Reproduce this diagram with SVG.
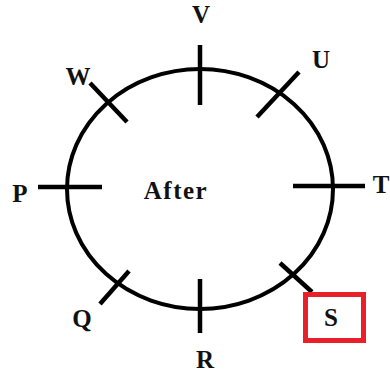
<svg xmlns="http://www.w3.org/2000/svg" width="390" height="373" viewBox="0 0 390 373">
<style>
.lbl{font-family:"Liberation Serif","Times New Roman",serif;font-weight:bold;font-size:25px;fill:#111;text-anchor:middle}
.tk{stroke:#000;stroke-width:4.5;fill:none}
</style>
<rect width="390" height="373" fill="#fff"/>
<g id="circle"><ellipse cx="200" cy="189" rx="133" ry="120" fill="none" stroke="#000" stroke-width="4"/></g>
<g id="connectors">
<line class="tk" x1="200" y1="45" x2="200" y2="105"/>
<line class="tk" x1="200" y1="279" x2="200" y2="333"/>
<line class="tk" x1="38" y1="187" x2="102" y2="187"/>
<line class="tk" x1="293" y1="186" x2="365" y2="186"/>
<line class="tk" x1="90" y1="83" x2="127" y2="122"/>
<line class="tk" x1="299" y1="72" x2="257" y2="117"/>
<line class="tk" x1="129" y1="271" x2="100" y2="304"/>
<line class="tk" x1="280" y1="263" x2="312" y2="292"/>
</g>
<g id="center"><text class="lbl" x="176" y="199" letter-spacing="1.5">After</text></g>
<g id="V"><text class="lbl" x="201" y="23">V</text></g>
<g id="U"><text class="lbl" x="321" y="68">U</text></g>
<g id="W"><text class="lbl" x="78" y="85">W</text></g>
<g id="P"><text class="lbl" x="20" y="202">P</text></g>
<g id="T"><text class="lbl" x="381" y="193">T</text></g>
<g id="Q"><text class="lbl" x="82" y="327">Q</text></g>
<g id="R"><text class="lbl" x="205" y="368">R</text></g>
<g id="S"><rect x="305.5" y="294.5" width="58" height="46" fill="none" stroke="#e8202a" stroke-width="5"/><text class="lbl" x="331" y="326">S</text></g>
</svg>
